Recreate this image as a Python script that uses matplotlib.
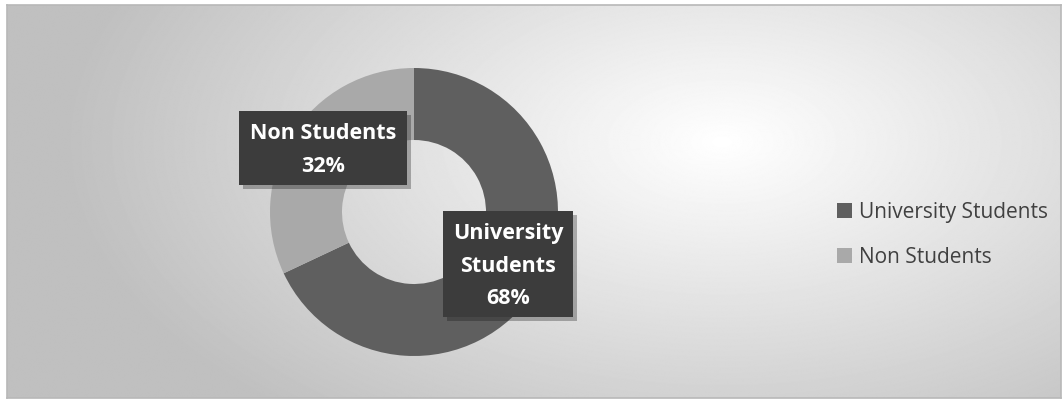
import numpy as np
import matplotlib.pyplot as plt
from matplotlib.patches import Rectangle
import matplotlib.patheffects as pe

labels = ["University Students", "Non Students"]
shares = [68, 32]
colors = ["#5f5f5f", "#a9a9a9"]
label_text = ["University\nStudents\n68%", "Non Students\n32%"]

W, H = 1062, 403
fig = plt.figure(figsize=(W / 100, H / 100), dpi=100)
fig.patch.set_facecolor("white")

# radial gradient background inside chart frame
bg = fig.add_axes([7 / W, 5 / H, (W - 8) / W, (H - 10) / H])
yy, xx = np.mgrid[0:H, 0:W]
d = np.hypot((xx - 720) / 720, (yy - 140) / 400)
shade = np.clip(1.0 - 0.27 * d, 0.75, 1.0)
bg.imshow(shade, cmap="gray", vmin=0, vmax=1, aspect="auto", extent=[0, W, H, 0])
bg.set_xticks([])
bg.set_yticks([])
for s in bg.spines.values():
    s.set_color("#b8b8b8")
    s.set_linewidth(1.2)

# donut
ax = fig.add_axes([(414 - 150) / W, (H - 212 - 150) / H, 300 / W, 300 / H])
wedges, _ = ax.pie(shares, colors=colors, startangle=90, counterclock=False,
                   radius=1.0, wedgeprops=dict(width=0.5, edgecolor="none"))
ax.set_xlim(-150 / 144, 150 / 144)
ax.set_ylim(-150 / 144, 150 / 144)
ax.set_aspect("equal")
ax.axis("off")

# data labels in dark boxes (box: left, top, width, height in pixels)
label_boxes = [(443, 211, 130, 106), (239, 111, 168, 74)]
for txt, (bx, by, bw, bh) in zip(label_text, label_boxes):
    box = Rectangle((bx / W, 1 - (by + bh) / H), bw / W, bh / H,
                    transform=fig.transFigure, facecolor="#3c3c3c", edgecolor="none",
                    path_effects=[pe.withSimplePatchShadow(offset=(3, -3), alpha=0.3)])
    fig.add_artist(box)
    fig.text((bx + bw / 2) / W, 1 - (by + bh / 2 + 2) / H, txt, ha="center", va="center",
             fontsize=15.5, fontweight="bold", color="white",
             family=["Open Sans", "DejaVu Sans"], linespacing=1.7)

# legend
handles = [Rectangle((0, 0), 1, 1, facecolor=c) for c in colors]
leg = fig.legend(handles, labels, loc="center left", bbox_to_anchor=(818 / W, 1 - 235 / H),
                 frameon=False, handlelength=0.72, handleheight=0.72,
                 handletextpad=0.35, labelspacing=1.15,
                 prop=dict(family=["Open Sans", "DejaVu Sans"], size=15))
for t in leg.get_texts():
    t.set_color("#404040")

fig.savefig("out.png", dpi=100)
